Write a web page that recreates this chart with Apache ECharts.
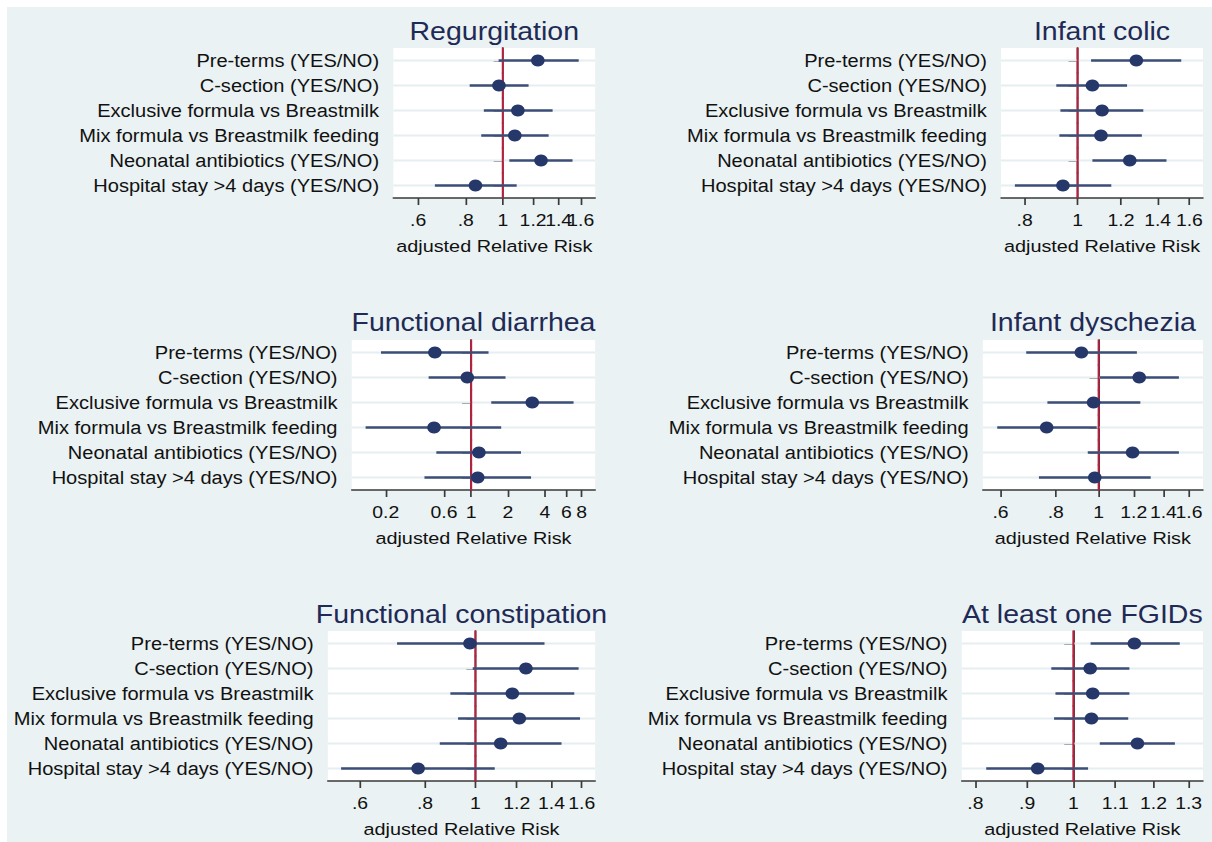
<!DOCTYPE html>
<html>
<head>
<meta charset="utf-8">
<script src="https://cdn.jsdelivr.net/npm/echarts@6/dist/echarts.min.js"></script>
<style>
html,body{margin:0;padding:0;background:#fff;overflow:hidden;}
#frame{position:absolute;left:0;top:0;width:1212px;height:842px;background:#eaf2f3;box-shadow:inset 7px 7px 0 #fff;overflow:hidden;}
#c{position:absolute;left:0;top:0;width:1063px;height:842px;transform:scaleX(1.1402);transform-origin:0 0;}
</style>
</head>
<body>
<div id="frame"><div id="c"></div></div>
<script>
// ---------- DATA ----------
const categories = [
  'Pre-terms (YES/NO)',
  'C-section (YES/NO)',
  'Exclusive formula vs Breastmilk',
  'Mix formula vs Breastmilk feeding',
  'Neonatal antibiotics (YES/NO)',
  'Hospital stay >4 days (YES/NO)'
];
const panelTitles = ['Regurgitation', 'Infant colic', 'Functional diarrhea', 'Infant dyschezia', 'Functional constipation', 'At least one FGIDs'];
const xAxisTitle = 'adjusted Relative Risk';

// Regurgitation
const regEst  = [1.235, 0.977, 1.095, 1.075, 1.259, 0.848];
const regLow  = [0.975, 0.819, 0.892, 0.878, 1.040, 0.664];
const regHigh = [1.580, 1.168, 1.350, 1.318, 1.522, 1.087];
const regTicks = [0.6, 0.8, 1, 1.2, 1.4, 1.6];
const regTickLabels = ['.6', '.8', '1', '1.2', '1.4', '1.6'];
const regRange = [0.517, 1.745];

// Infant colic
const colEst  = [1.280, 1.064, 1.108, 1.103, 1.245, 0.940];
const colLow  = [1.058, 0.914, 0.930, 0.926, 1.064, 0.768];
const colHigh = [1.546, 1.231, 1.318, 1.310, 1.453, 1.152];
const colTicks = [0.8, 1, 1.2, 1.4, 1.6];
const colTickLabels = ['.8', '1', '1.2', '1.4', '1.6'];
const colRange = [0.7247, 1.6935];

// Functional diarrhea
const diaEst  = [0.505, 0.930, 3.160, 0.497, 1.157, 1.132];
const diaLow  = [0.183, 0.449, 1.460, 0.137, 0.519, 0.415];
const diaHigh = [1.387, 1.910, 6.880, 1.760, 2.557, 3.090];
const diaTicks = [0.2, 0.6, 1, 2, 4, 6, 8];
const diaTickLabels = ['0.2', '0.6', '1', '2', '4', '6', '8'];
const diaRange = [0.1055, 10.34];

// Infant dyschezia
const dysEst  = [0.914, 1.235, 0.974, 0.763, 1.193, 0.980];
const dysLow  = [0.686, 1.006, 0.766, 0.590, 0.945, 0.733];
const dysHigh = [1.220, 1.518, 1.242, 0.990, 1.518, 1.311];
const dysTicks = [0.6, 0.8, 1, 1.2, 1.4, 1.6];
const dysTickLabels = ['.6', '.8', '1', '1.2', '1.4', '1.6'];
const dysRange = [0.5475, 1.72];

// Functional constipation
const conEst  = [0.976, 1.250, 1.177, 1.214, 1.118, 0.776];
const conLow  = [0.707, 0.988, 0.895, 0.926, 0.854, 0.552];
const conHigh = [1.357, 1.578, 1.548, 1.588, 1.463, 1.089];
const conTicks = [0.6, 0.8, 1, 1.2, 1.4, 1.6];
const conTickLabels = ['.6', '.8', '1', '1.2', '1.4', '1.6'];
const conRange = [0.5205, 1.698];

// At least one FGIDs
const fgEst  = [1.149, 1.039, 1.045, 1.042, 1.157, 0.922];
const fgLow  = [1.040, 0.951, 0.960, 0.957, 1.062, 0.820];
const fgHigh = [1.274, 1.136, 1.136, 1.133, 1.260, 1.034];
const fgTicks = [0.8, 0.9, 1, 1.1, 1.2, 1.3];
const fgTickLabels = ['.8', '.9', '1', '1.1', '1.2', '1.3'];
const fgRange = [0.7756, 1.343];

const panels = [
  {est: regEst, low: regLow, high: regHigh, ticks: regTicks, labels: regTickLabels, range: regRange},
  {est: colEst, low: colLow, high: colHigh, ticks: colTicks, labels: colTickLabels, range: colRange},
  {est: diaEst, low: diaLow, high: diaHigh, ticks: diaTicks, labels: diaTickLabels, range: diaRange},
  {est: dysEst, low: dysLow, high: dysHigh, ticks: dysTicks, labels: dysTickLabels, range: dysRange},
  {est: conEst, low: conLow, high: conHigh, ticks: conTicks, labels: conTickLabels, range: conRange},
  {est: fgEst, low: fgLow, high: fgHigh, ticks: fgTicks, labels: fgTickLabels, range: fgRange}
];

// ---------- LAYOUT / STYLE (logical px, stretched horizontally by CSS) ----------
const gridBoxes = [
  {left: 345, top: 48, width: 177, height: 150},
  {left: 878, top: 48, width: 177, height: 150},
  {left: 308.5, top: 340, width: 213.5, height: 150},
  {left: 862, top: 340, width: 193, height: 150},
  {left: 287.5, top: 631, width: 234.5, height: 150},
  {left: 843.5, top: 631, width: 211.5, height: 150}
];
const titleTops = [19, 19, 310, 310, 602, 602];
const FONT = '"Liberation Sans", Arial, Helvetica, sans-serif';
const AXIS_COLOR = '#3a3a3a';
const NAVY = '#26386a';
const CI_COLOR = '#3c4e78';
const RED = '#b3223f';
const GRID_LINE = '#e5eef0';
const TICK_FONT = 17;

const option = {
  animation: false,
  backgroundColor: 'transparent',
  textStyle: {fontFamily: FONT},
  title: [], grid: [], xAxis: [], yAxis: [], series: []
};

const labelAxes = [];
panels.forEach((p, i) => {
  const g = gridBoxes[i];
  option.title.push({
    text: panelTitles[i],
    left: g.left + g.width / 2,
    top: titleTops[i],
    textAlign: 'center',
    padding: 0,
    textStyle: {fontFamily: FONT, fontSize: 25, fontWeight: 'normal', color: '#1f2a55'}
  });
  option.grid.push({
    left: g.left, top: g.top, width: g.width, height: g.height,
    show: true, backgroundColor: '#ffffff', borderWidth: 0, containLabel: false
  });
  const tickLn = p.ticks.map(t => Math.log(t));
  const fmt = v => {
    let best = 0, bd = Infinity;
    tickLn.forEach((t, k) => { const d = Math.abs(t - v); if (d < bd) { bd = d; best = k; } });
    return p.labels[best];
  };
  const evenLn = tickLn.filter((t, k) => k % 2 === 0);
  const oddLn = tickLn.filter((t, k) => k % 2 === 1);
  option.xAxis.push({
    type: 'value', gridIndex: i, position: 'bottom',
    min: Math.log(p.range[0]), max: Math.log(p.range[1]),
    axisLine: {show: true, onZero: false, lineStyle: {color: AXIS_COLOR, width: 1.5}},
    axisTick: {show: true, customValues: tickLn, length: 7, lineStyle: {color: AXIS_COLOR, width: 1.5}},
    axisLabel: {customValues: evenLn, margin: 13, fontSize: TICK_FONT, color: '#111', fontFamily: FONT,
      hideOverlap: false, formatter: fmt},
    splitLine: {show: false},
    name: xAxisTitle, nameLocation: 'middle', nameGap: 39,
    nameTextStyle: {fontSize: 17.4, color: '#111', fontFamily: FONT}
  });
  // second label-only axis on the same bottom edge (so neighbouring labels may touch as in the reference)
  labelAxes.push({
    type: 'value', gridIndex: i, position: 'bottom', offset: 0,
    min: Math.log(p.range[0]), max: Math.log(p.range[1]),
    axisLine: {show: false, onZero: false},
    axisTick: {show: false},
    axisLabel: {customValues: oddLn, margin: 13, fontSize: TICK_FONT, color: '#111', fontFamily: FONT,
      hideOverlap: false, formatter: fmt},
    splitLine: {show: false}
  });
  option.yAxis.push({
    type: 'category', gridIndex: i, data: categories, inverse: true,
    axisLine: {show: true, lineStyle: {color: AXIS_COLOR, width: 1.5}},
    axisTick: {show: true, alignWithLabel: true, length: 8, lineStyle: {color: AXIS_COLOR, width: 1.5}},
    axisLabel: {fontSize: 17.6, color: '#111', margin: 12.5, fontFamily: FONT, hideOverlap: false},
    splitLine: {show: false}
  });
  // per-row: light grid line, red reference segment at RR = 1, confidence interval
  option.series.push({
    type: 'custom', xAxisIndex: i, yAxisIndex: i, z: 2, silent: true,
    data: p.low.map((l, k) => [Math.log(l), Math.log(p.high[k]), k, Math.log(1)]),
    encode: {x: [0, 1], y: 2},
    renderItem: (params, api) => {
      const cs = params.coordSys;
      const row = api.value(2);
      const a = api.coord([api.value(0), row]);
      const b = api.coord([api.value(1), row]);
      const ref = api.coord([api.value(3), row]);
      const band = api.size([0, 1])[1];
      return {
        type: 'group',
        children: [
          {type: 'line', z2: 1, shape: {x1: cs.x, y1: a[1], x2: cs.x + cs.width, y2: a[1]},
            style: {stroke: GRID_LINE, lineWidth: 2}},
          {type: 'line', z2: 2, shape: {x1: ref[0], y1: a[1] - band / 2 - 0.5, x2: ref[0], y2: a[1] + band / 2 + 0.5},
            style: {stroke: RED, lineWidth: 1.8}},
          {type: 'line', z2: 3, shape: {x1: a[0], y1: a[1], x2: b[0], y2: b[1]},
            style: {stroke: CI_COLOR, lineWidth: 2.3}}
        ]
      };
    }
  });
  // point estimates
  option.series.push({
    type: 'scatter', xAxisIndex: i, yAxisIndex: i, z: 5, silent: true,
    symbol: 'circle', symbolSize: 12,
    itemStyle: {color: NAVY, opacity: 1},
    data: p.est.map((e, k) => [Math.log(e), k])
  });
});
option.xAxis = option.xAxis.concat(labelAxes);

const chart = echarts.init(document.getElementById('c'), null, {renderer: 'svg'});
chart.setOption(option);
</script>
</body>
</html>
